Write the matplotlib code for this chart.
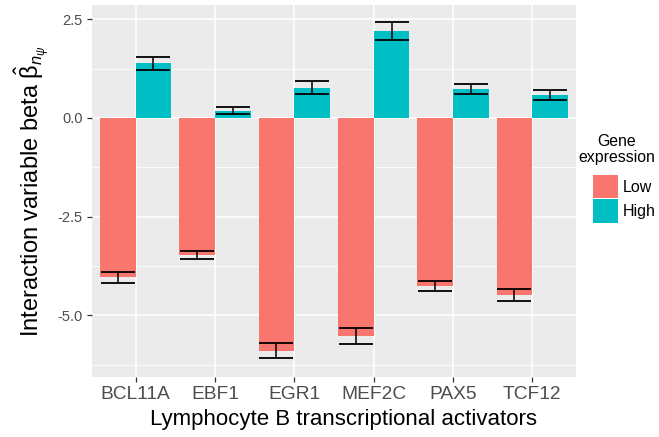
import matplotlib
matplotlib.use("Agg")

import matplotlib.pyplot as plt
import numpy as np
from matplotlib.patches import Patch

plt.rcParams["font.family"] = ["Liberation Sans", "DejaVu Sans"]
plt.rcParams["mathtext.fontset"] = "custom"
plt.rcParams["mathtext.rm"] = "Liberation Sans"
plt.rcParams["mathtext.it"] = "Liberation Sans:italic"

# Transcription factors and their interaction coefficients
activators = ["BCL11A", "EBF1", "EGR1", "MEF2C", "PAX5", "TCF12"]
beta_low = [-4.04, -3.47, -5.90, -5.52, -4.25, -4.48]
err_low = [0.14, 0.11, 0.19, 0.20, 0.13, 0.15]
beta_high = [1.385, 0.185, 0.77, 2.20, 0.73, 0.58]
err_high = [0.16, 0.09, 0.16, 0.22, 0.135, 0.135]

LOW_COLOR = "#F8766D"
HIGH_COLOR = "#00BFC4"
PANEL_BG = "#EBEBEB"
BAR_WIDTH = 0.45


def plot_coefficients():
    fig = plt.figure(figsize=(6.59, 4.37), dpi=100)
    ax = fig.add_axes([0.1396, 0.1373, 0.7344, 0.8513])
    ax.set_facecolor(PANEL_BG)

    x = np.arange(len(activators))

    ax.bar(x - BAR_WIDTH / 2, beta_low, width=BAR_WIDTH,
           color=LOW_COLOR, zorder=2)
    ax.bar(x + BAR_WIDTH / 2, beta_high, width=BAR_WIDTH,
           color=HIGH_COLOR, zorder=2)

    err_style = dict(fmt="none", ecolor="black", elinewidth=1.1,
                     capsize=12.5, capthick=1.3, zorder=3)
    ax.errorbar(x - BAR_WIDTH / 2, beta_low, yerr=err_low, **err_style)
    ax.errorbar(x + BAR_WIDTH / 2, beta_high, yerr=err_high, **err_style)

    ax.set_xlim(-0.55, len(activators) - 0.45)
    ax.set_ylim(-6.56, 2.86)

    ax.set_xticks(x)
    ax.set_xticklabels(activators)
    ax.set_yticks([-5.0, -2.5, 0.0, 2.5])
    ax.set_yticklabels(["-5.0", "-2.5", "0.0", "2.5"])
    ax.set_yticks([-6.25, -3.75, -1.25, 1.25], minor=True)

    ax.grid(True, which="major", color="white", linewidth=1.1, zorder=0)
    ax.grid(True, which="minor", axis="y", color="white",
            linewidth=0.55, zorder=0)
    ax.set_axisbelow(True)

    for spine in ax.spines.values():
        spine.set_visible(False)

    ax.tick_params(axis="x", which="major", length=3.5, width=0.9,
                   color="#333333", labelsize=13.8, labelcolor="#4D4D4D",
                   pad=3)
    ax.tick_params(axis="y", which="major", length=3.5, width=0.9,
                   color="#333333", labelsize=10.5, labelcolor="#4D4D4D",
                   pad=3)
    ax.tick_params(axis="y", which="minor", length=0)

    ax.set_xlabel("Lymphocyte B transcriptional activators",
                  fontsize=16, labelpad=4)
    ax.xaxis.label.set_x(0.519)
    ax.set_ylabel(r"Interaction variable beta $\hat{\mathrm{\beta}}_{n_\psi}$",
                  fontsize=17, labelpad=5)

    # Legend: centred two-line title above the colour keys
    fig.text(0.936, 0.693, "Gene\nexpression", ha="center", va="top",
             multialignment="center", fontsize=11.4, linespacing=1.1)
    handles = [Patch(facecolor=LOW_COLOR, edgecolor="none", label="Low"),
               Patch(facecolor=HIGH_COLOR, edgecolor="none", label="High")]
    fig.legend(handles=handles, loc="upper left",
               bbox_to_anchor=(0.9, 0.6), frameon=False, fontsize=11.5,
               borderpad=0, borderaxespad=0,
               handlelength=1.55, handleheight=1.9,
               handletextpad=0.3, labelspacing=0.05)

    fig.savefig("out.png", dpi=100)
    plt.close(fig)


if __name__ == "__main__":
    plot_coefficients()
